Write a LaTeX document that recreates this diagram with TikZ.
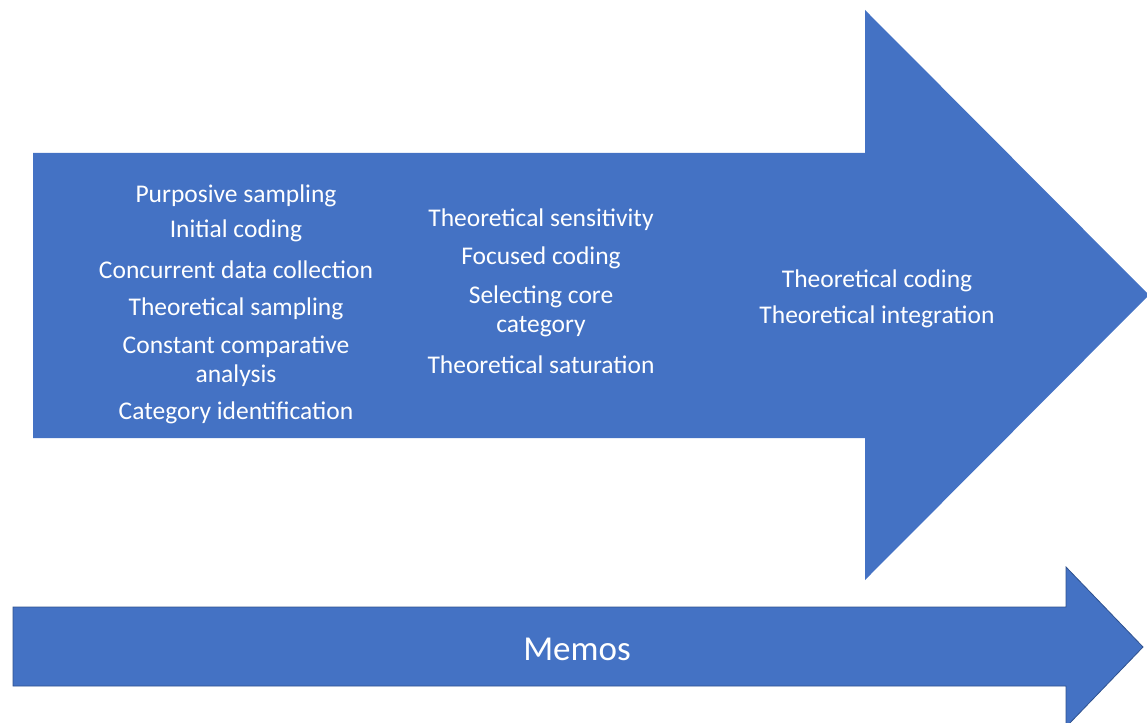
\documentclass[tikz,border=0pt]{standalone}
\usepackage{fontspec}
\setmainfont{Carlito}
\definecolor{officeblue}{HTML}{4472C4}
\definecolor{edgeblue}{HTML}{2F528F}
\begin{document}
\begin{tikzpicture}[x=1pt,y=-1pt,
  stage/.style={text=white,font=\fontsize{25.5}{29}\selectfont,align=center,inner sep=0pt,anchor=center},
  memo/.style={text=white,font=\fontsize{35}{40}\selectfont,inner sep=0pt}]
\useasboundingbox (0,0) rectangle (1147,722);
% main process arrow
\fill[officeblue] (33,153) -- (865,153) -- (865,10) -- (1149,295) -- (865,580)
  -- (865,438) -- (33,438) -- cycle;
% memos arrow along the bottom
\filldraw[fill=officeblue,draw=edgeblue,line width=0.8pt]
  (13,607) -- (1066,607) -- (1066,567) -- (1143,647) -- (1066,727)
  -- (1066,686) -- (13,686) -- cycle;
% first phase
\node[stage] (a1) at (236,196) {Purposive sampling};
\node[stage] (a2) at (236,231) {Initial coding};
\node[stage] (a3) at (236,270) {Concurrent data collection};
\node[stage] (a4) at (236,309) {Theoretical sampling};
\node[stage] (a5) at (236,361) {Constant comparative\\analysis};
\node[stage] (a6) at (236,413) {Category identification};
% second phase
\node[stage] (b1) at (541,220) {Theoretical sensitivity};
\node[stage] (b2) at (541,258) {Focused coding};
\node[stage] (b3) at (541,311) {Selecting core\\category};
\node[stage] (b4) at (541,365) {Theoretical saturation};
% third phase
\node[stage] (c1) at (877,281) {Theoretical coding};
\node[stage] (c2) at (877,317) {Theoretical integration};
\node[memo] (m) at (577,649) {Memos};
\end{tikzpicture}
\end{document}
